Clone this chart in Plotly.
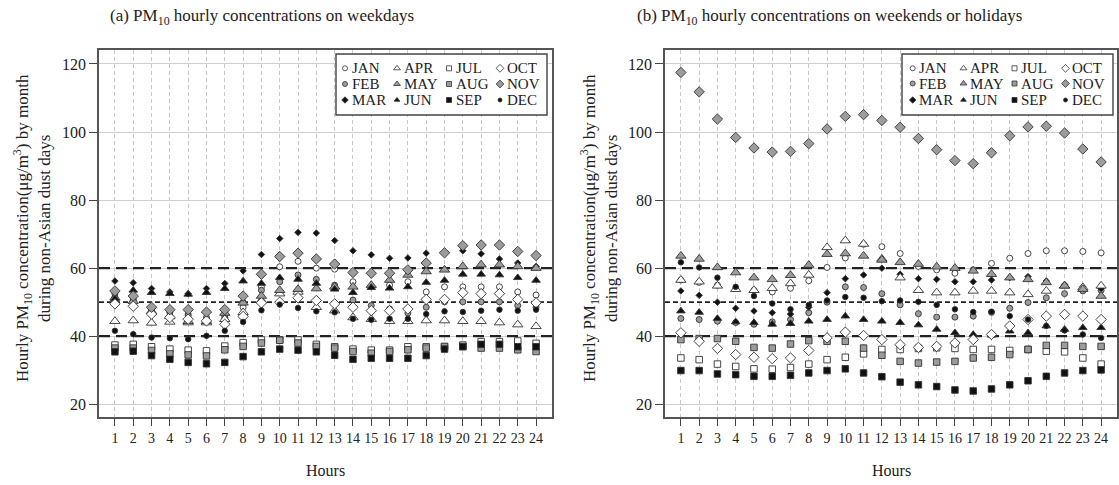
import plotly.graph_objects as go

# ---------------- data ----------------
hours = list(range(1, 25))
months = ["JAN", "FEB", "MAR", "APR", "MAY", "JUN", "JUL", "AUG", "SEP", "OCT", "NOV", "DEC"]
y_ticks = [20, 40, 60, 80, 100, 120]
ref_levels = [40, 50, 60]

# (a) weekdays
wd_jan = [51.5, 50.5, 47, 46, 46.5, 45, 45.5, 48.5, 54.5, 60.4, 62, 60, 59.7, 56, 54.5, 55, 56, 53, 54.5, 54.5, 54.5, 54.5, 53, 52.1]
wd_feb = [52.5, 51, 48, 47, 46, 45.5, 46, 50, 53.5, 56, 58, 56.7, 55, 50.6, 49, 48, 46.8, 48.5, 50.1, 50.1, 50.1, 50.1, 49, 48.5]
wd_mar = [56.2, 55.7, 54, 53, 52.5, 54, 55.5, 59.2, 64, 68.7, 70.5, 70.3, 68.1, 65.1, 63.9, 62.9, 63, 64.4, 64.7, 65.1, 64.2, 62.7, 61.5, 60.5]
wd_apr = [44.4, 44.6, 43.9, 44.2, 44, 44, 45, 47, 50.5, 52.5, 53, 48.5, 47.5, 45.5, 45, 44.4, 44.4, 44.6, 44.6, 44.4, 44.4, 44, 43.4, 42.9]
wd_may = [51.3, 50.3, 47.3, 45.8, 44.4, 44.4, 46.8, 49.8, 51.8, 53.5, 53.8, 54, 54.5, 54.5, 55, 56.5, 58, 59, 59.5, 60.5, 61, 61, 60.5, 60]
wd_jun = [51, 53.5, 52.8, 52.5, 52.3, 52.8, 54, 56.2, 55.5, 57.2, 56.7, 55.5, 53.8, 52.8, 54.3, 54.1, 54.5, 55.8, 56.4, 58.2, 58.2, 58, 57.2, 56.4]
wd_jul = [37.4, 37.6, 36.9, 36.2, 35.9, 35.7, 37.1, 38.1, 38.9, 38.9, 38.9, 37.6, 36.9, 36.2, 35.9, 35.9, 36.9, 36.9, 36.9, 37.4, 38.4, 38.4, 38.6, 37.9]
wd_aug = [36.5, 36.5, 35.8, 34.8, 34.5, 34.2, 36, 37, 38, 38.8, 38, 37, 36.5, 35.5, 35, 35.5, 36, 36.5, 37, 37, 36.5, 36.5, 36, 35.5]
wd_sep = [35.4, 35.6, 34.3, 33.2, 32.3, 31.9, 32.3, 34, 35.4, 36.2, 35.9, 35.4, 34.4, 33.2, 33.5, 33.5, 33.5, 34.3, 36.2, 36.9, 37.6, 37.6, 36.9, 36.9]
wd_oct = [49.5, 48.8, 46.5, 45.5, 45, 44.5, 43.5, 45.8, 49.8, 50, 51.3, 50.5, 49.5, 48.5, 47.5, 47.5, 48, 50.8, 50.8, 52.8, 52.5, 52.5, 50.8, 49.8]
wd_nov = [53.3, 51.8, 48.5, 47.8, 47.8, 47.1, 47.8, 51.8, 58.2, 63.4, 64.4, 62.7, 61.2, 58.7, 58.5, 58.5, 59.5, 61.5, 64.5, 66.6, 66.8, 66.8, 64.9, 63.7]
wd_dec = [41.6, 40.6, 39.6, 39.4, 39.1, 40.1, 41.6, 44.2, 47.6, 49.3, 48.3, 47.3, 47, 45.1, 44.8, 45.1, 45.1, 46.5, 47.3, 47.1, 47.5, 47.8, 47.5, 47.8]

# (b) weekends or holidays
we_jan = [56.5, 55.8, 55, 54, 53.5, 53, 54.1, 56.3, 60.2, 63, 67, 66.3, 64.3, 60.5, 59.5, 58.5, 59.5, 61.4, 62.9, 64.3, 65.1, 65.1, 64.9, 64.5]
we_feb = [45.2, 44.9, 44.4, 44, 43.5, 44.2, 44.9, 46.9, 50, 54.5, 54.3, 52.5, 49.2, 46.6, 45.6, 45.6, 45.9, 47, 48.2, 49.9, 51.3, 52.5, 53.3, 53.5]
we_mar = [53.3, 52, 50, 48.2, 47.4, 46.9, 46.5, 48.5, 52.8, 56.9, 58, 60, 58.2, 56.9, 56.7, 56, 56, 56.5, 57.2, 57.5, 56.2, 55.2, 54.5, 54]
we_apr = [56.5, 56, 54.8, 53.8, 53.5, 54.1, 55.5, 58, 66.1, 68.1, 67.1, 62.7, 57.2, 53.5, 52.8, 52.8, 53.3, 53.3, 52.8, 52.3, 53.3, 54.8, 54.3, 54.8]
we_may = [63.6, 62.7, 60.2, 58.7, 57.2, 56.7, 57.9, 60.9, 64.1, 64.3, 63.6, 62.4, 61.7, 61.2, 60.4, 60, 59.2, 58.2, 57.2, 56.7, 55.8, 54.8, 53.8, 51.8]
we_jun = [47.4, 47, 45.2, 44.2, 44, 43.5, 43.7, 44.4, 44.9, 45.9, 44.9, 44.4, 44, 43.3, 42, 41, 40.5, 40.3, 41.5, 41, 43, 42, 42.5, 42.5]
we_jul = [33.6, 33.1, 31.8, 31.1, 30.4, 30.3, 30.8, 31.8, 33.1, 33.8, 34.8, 36.1, 36.1, 36.4, 36.6, 36.4, 36.1, 36.1, 35.8, 36.1, 35.6, 35.4, 33.6, 31.8]
we_aug = [39, 39.3, 39.3, 38.5, 36.7, 36.5, 37.7, 38.7, 38.5, 38.5, 36.5, 34.4, 32.6, 32.1, 32.4, 32.6, 33.6, 33.8, 34.6, 36.1, 37.3, 37.3, 37, 37]
we_sep = [29.9, 29.9, 28.9, 28.7, 28.2, 28.2, 28.5, 29.2, 29.9, 30.4, 29.2, 28.1, 26.5, 25.7, 25.2, 24.2, 23.9, 24.5, 25.7, 26.9, 28.2, 29.2, 29.9, 30.1]
we_oct = [41, 38.5, 36.4, 34.6, 33.8, 33.4, 33.6, 35.8, 39.5, 41.2, 40.2, 39, 37.5, 36.7, 37, 38, 39, 40.5, 43, 44.9, 45.9, 46.4, 45.9, 44.9]
we_nov = [117.5, 111.8, 103.8, 98.4, 95.3, 94.1, 94.3, 96.6, 100.9, 104.6, 105.1, 103.4, 101.4, 98.1, 94.8, 91.6, 90.7, 93.9, 98.9, 101.5, 101.7, 99.7, 95, 91.2]
we_dec = [61.7, 60.2, 57.2, 54.5, 51.8, 49.6, 47.9, 49.2, 50.5, 51.5, 51.3, 50.3, 50.5, 50.1, 49.2, 47.9, 47.1, 47.2, 45.9, 44.9, 43, 41.7, 40.5, 39.5]

weekday = dict(zip(months, [wd_jan, wd_feb, wd_mar, wd_apr, wd_may, wd_jun,
                            wd_jul, wd_aug, wd_sep, wd_oct, wd_nov, wd_dec]))
weekend = dict(zip(months, [we_jan, we_feb, we_mar, we_apr, we_may, we_jun,
                            we_jul, we_aug, we_sep, we_oct, we_nov, we_dec]))

# ---------------- styles ----------------
W, H = 1119, 485
FONT = "Liberation Serif, Times New Roman, serif"
EDGE = "#333333"
GRAY = "#9c9c9c"
BLACK = "#111111"
WHITE = "#ffffff"

STYLE = {
    "JAN": dict(symbol="circle", color=WHITE, size=6, lsize=5),
    "FEB": dict(symbol="circle", color=GRAY, size=6, lsize=5),
    "MAR": dict(symbol="diamond", color=BLACK, size=5, lsize=5),
    "APR": dict(symbol="triangle-up", color=WHITE, size=9, lsize=6),
    "MAY": dict(symbol="triangle-up", color=GRAY, size=9, lsize=6),
    "JUN": dict(symbol="triangle-up", color=BLACK, size=7.5, lsize=5),
    "JUL": dict(symbol="square", color=WHITE, size=6.5, lsize=5),
    "AUG": dict(symbol="square", color=GRAY, size=6.5, lsize=5),
    "SEP": dict(symbol="square", color=BLACK, size=6.5, lsize=5),
    "OCT": dict(symbol="diamond", color=WHITE, size=8, lsize=6),
    "NOV": dict(symbol="diamond", color=GRAY, size=8, lsize=6),
    "DEC": dict(symbol="circle", color=BLACK, size=5.5, lsize=4),
}


def fx(px):
    return px / W


def fy(py):
    return 1 - py / H


panels = [
    dict(xa="x", ya="y", data=weekday, x0=99, x1=552,
         title="(a) PM<sub>10</sub> hourly concentrations on weekdays", tx=262, ytx=32,
         leg_cols=[345, 397, 449, 500], leg_rows=[68.3, 84, 100], box=(336, 54, 547, 115)),
    dict(xa="x2", ya="y2", data=weekend, x0=665, x1=1117,
         title="(b) PM<sub>10</sub> hourly concentrations on weekends or holidays", tx=829, ytx=599,
         leg_cols=[912.7, 963.5, 1014.5, 1065.5], leg_rows=[68.3, 83.5, 100], box=(902, 54, 1113, 115)),
]
PLOT_TOP, PLOT_BOTTOM = 50, 416.5
x_range = [0.13, 24.87]
y_range = [16.4, 124.1]

fig = go.Figure()
shapes = []
annotations = []
legends = {}
legend_k = 0

for p in panels:
    # reference dashed lines (drawn first, under the markers)
    for lvl in ref_levels:
        major = lvl != 50
        fig.add_trace(go.Scatter(
            x=x_range, y=[lvl, lvl], mode="lines", xaxis=p["xa"], yaxis=p["ya"],
            showlegend=False, hoverinfo="skip", cliponaxis=True,
            line=dict(color="#222222", width=2.2 if major else 1.6,
                      dash="11px,6px" if major else "5px,3px"),
        ))

    for m in months:
        st = STYLE[m]
        fig.add_trace(go.Scatter(
            x=hours, y=p["data"][m], mode="markers", name=m,
            xaxis=p["xa"], yaxis=p["ya"], showlegend=False,
            marker=dict(symbol=st["symbol"], size=st["size"], color=st["color"],
                        line=dict(color=EDGE, width=0.9)),
        ))

    # legend box
    bx0, by0, bx1, by1 = p["box"]
    shapes.append(dict(type="rect", xref="paper", yref="paper",
                       x0=fx(bx0), x1=fx(bx1), y0=fy(by1), y1=fy(by0),
                       fillcolor="white", line=dict(color="#444444", width=1.4), layer="above"))
    # legend entries: one legend per symbol, text as annotation
    for i, m in enumerate(months):
        col, row = i // 3, i % 3
        sx, sy = p["leg_cols"][col], p["leg_rows"][row]
        legend_k += 1
        lid = "legend" if legend_k == 1 else f"legend{legend_k}"
        st = STYLE[m]
        fig.add_trace(go.Scatter(
            x=[None], y=[None], mode="markers", name=" ", legend=lid,
            xaxis=p["xa"], yaxis=p["ya"], showlegend=True, hoverinfo="skip",
            marker=dict(symbol=st["symbol"], size=st["lsize"], color=st["color"],
                        line=dict(color=EDGE, width=0.8)),
        ))
        legends[lid] = dict(x=fx(sx - 20), y=fy(sy), xanchor="left", yanchor="middle",
                            bgcolor="rgba(0,0,0,0)", borderwidth=0, itemwidth=30,
                            font=dict(size=6, family=FONT), itemclick=False, itemdoubleclick=False)
        annotations.append(dict(text=m, xref="paper", yref="paper", x=fx(sx + 4.5), y=fy(sy),
                                xanchor="left", yanchor="middle", showarrow=False,
                                font=dict(size=15, family=FONT, color="#222222")))

    # panel title, x title, y title
    annotations.append(dict(text=p["title"], xref="paper", yref="paper", x=fx(p["tx"]), y=fy(17),
                            xanchor="center", yanchor="middle", showarrow=False,
                            font=dict(size=17, family=FONT, color="#222222")))
    annotations.append(dict(text="Hours", xref="paper", yref="paper",
                            x=fx((p["x0"] + p["x1"]) / 2), y=fy(470),
                            xanchor="center", yanchor="middle", showarrow=False,
                            font=dict(size=16, family=FONT, color="#222222")))
    annotations.append(dict(text="Hourly PM<sub>10</sub> concentration(μg/m<sup>3</sup>) by month<br>during non-Asian dust days",
                            xref="paper", yref="paper", x=fx(p["ytx"]), y=fy(228),
                            xanchor="center", yanchor="middle", showarrow=False, textangle=-90,
                            font=dict(size=17, family=FONT, color="#222222")))

common_x = dict(range=x_range, tickmode="array", tickvals=hours, ticktext=[str(h) for h in hours],
                ticks="outside", ticklen=8, tickcolor="#444444", tickwidth=1.2,
                showline=True, linecolor="#555555", linewidth=1.5, mirror=True,
                showgrid=True, gridcolor="#c8c8c8", gridwidth=1, griddash="4px,3px",
                zeroline=False, automargin=False,
                tickfont=dict(size=14, family=FONT, color="#222222"))
common_y = dict(range=y_range, tickmode="array", tickvals=y_ticks,
                ticks="outside", ticklen=8, tickcolor="#444444", tickwidth=1.2,
                showline=True, linecolor="#555555", linewidth=1.5, mirror=True,
                showgrid=True, gridcolor="#cfcfcf", gridwidth=1.2,
                zeroline=False, automargin=False,
                tickfont=dict(size=16, family=FONT, color="#222222"))

ydom = [fy(PLOT_BOTTOM), fy(PLOT_TOP)]
fig.update_layout(
    width=W, height=H,
    margin=dict(l=0, r=0, t=0, b=0),
    paper_bgcolor="white", plot_bgcolor="white",
    font=dict(family=FONT),
    xaxis=dict(common_x, domain=[fx(panels[0]["x0"]), fx(panels[0]["x1"])], anchor="y"),
    yaxis=dict(common_y, domain=ydom, anchor="x"),
    xaxis2=dict(common_x, domain=[fx(panels[1]["x0"]), fx(panels[1]["x1"])], anchor="y2"),
    yaxis2=dict(common_y, domain=ydom, anchor="x2"),
    shapes=shapes,
    annotations=annotations,
    hovermode="closest",
)
fig.update_layout(**legends)

fig.write_html("out.html")
